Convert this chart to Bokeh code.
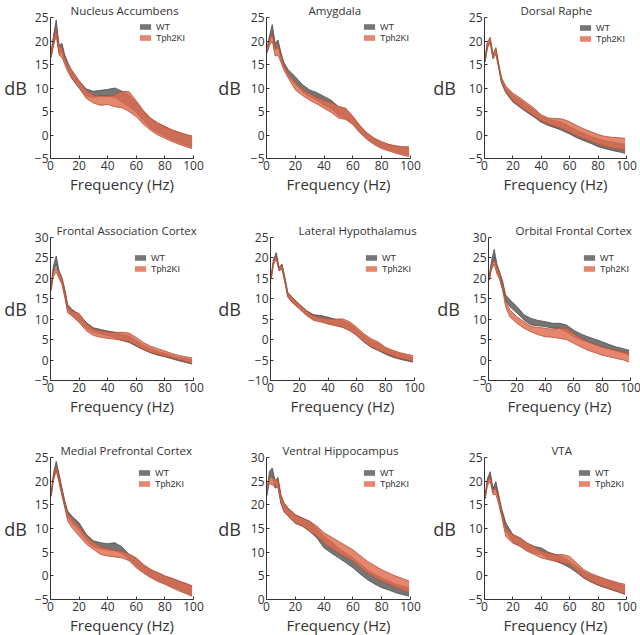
from bokeh.plotting import figure
from bokeh.layouts import row, column
from bokeh.models import Range1d, Title, Legend, LegendItem, FixedTicker, ColumnDataSource
from bokeh.embed import file_html
from bokeh.resources import INLINE

# ---------------- data ----------------
FREQ = [0.5, 2, 4, 6, 8, 10, 12, 15, 20, 25, 30, 35, 40, 45, 50, 55, 60, 65, 70, 75, 80, 85, 90, 95, 99]
SERIES = ["WT", "Tph2KI"]
X_TICKS = [0, 20, 40, 60, 80, 100]
Y_TICKS_M5_25 = [-5, 0, 5, 10, 15, 20, 25]
Y_TICKS_M5_30 = [-5, 0, 5, 10, 15, 20, 25, 30]
Y_TICKS_M10_25 = [-10, -5, 0, 5, 10, 15, 20, 25]
Y_TICKS_0_30 = [0, 5, 10, 15, 20, 25, 30]

TITLES = ["Nucleus Accumbens", "Amygdala", "Dorsal Raphe",
          "Frontal Association Cortex", "Lateral Hypothalamus", "Orbital Frontal Cortex",
          "Medial Prefrontal Cortex", "Ventral Hippocampus", "VTA"]

nac_wt_hi = [17.5, 21.0, 24.5, 19.0, 19.5, 17.0, 15.5, 13.5, 11.5, 9.8, 9.3, 9.5, 9.7, 10.0, 9.3, 8.5, 7.0, 5.0, 3.5, 2.5, 1.8, 1.0, 0.5, 0.0, -0.3]
nac_wt_lo = [16.5, 19.0, 22.0, 17.5, 17.5, 15.5, 14.0, 12.0, 10.0, 8.3, 8.0, 8.3, 8.3, 8.0, 7.0, 6.0, 4.8, 3.0, 1.5, 0.5, -0.3, -1.0, -1.6, -2.2, -2.6]
nac_ki_hi = [17.8, 20.5, 22.5, 19.0, 18.5, 16.5, 15.0, 13.8, 11.5, 9.5, 8.5, 8.3, 8.2, 8.5, 9.3, 9.2, 7.3, 5.2, 3.6, 2.6, 1.8, 1.1, 0.6, 0.1, -0.2]
nac_ki_lo = [17.0, 19.0, 21.0, 17.0, 16.5, 15.0, 13.5, 12.0, 10.0, 7.8, 6.8, 6.3, 6.5, 6.0, 5.8, 5.0, 3.9, 2.3, 1.0, 0.0, -0.7, -1.4, -2.0, -2.5, -2.9]

amy_wt_hi = [18.5, 21.0, 23.5, 19.5, 20.2, 17.6, 15.5, 13.9, 12.4, 10.7, 9.6, 9.0, 8.2, 7.4, 6.0, 5.5, 3.8, 1.8, 0.3, -0.8, -1.6, -2.1, -2.4, -2.6, -2.7]
amy_wt_lo = [17.5, 19.5, 21.5, 18.0, 18.5, 16.3, 14.5, 12.6, 10.8, 9.2, 8.2, 7.4, 6.4, 5.6, 4.2, 3.5, 2.4, 0.6, -0.8, -1.8, -2.6, -3.1, -3.6, -4.0, -4.3]
amy_ki_hi = [18.8, 20.5, 21.6, 18.5, 19.0, 17.0, 15.0, 13.2, 11.2, 9.8, 8.8, 8.0, 7.4, 6.9, 6.1, 5.7, 4.0, 2.0, 0.4, -0.7, -1.4, -2.0, -2.3, -2.5, -2.5]
amy_ki_lo = [17.8, 19.0, 20.0, 16.8, 17.0, 15.5, 13.9, 12.2, 9.6, 8.4, 7.4, 6.6, 5.7, 4.8, 3.6, 3.3, 2.2, 0.4, -1.0, -2.1, -2.9, -3.4, -3.9, -4.3, -4.6]

dr_wt_hi = [16.5, 19.5, 20.5, 17.0, 18.4, 15.0, 12.0, 10.0, 8.5, 7.5, 6.4, 5.3, 4.0, 3.3, 3.0, 2.6, 1.8, 1.0, 0.3, -0.3, -0.8, -1.2, -1.5, -1.8, -2.0]
dr_wt_lo = [15.5, 18.5, 19.8, 16.2, 17.4, 14.3, 11.0, 9.0, 7.0, 5.9, 4.8, 3.8, 2.7, 2.0, 1.5, 0.9, 0.2, -0.6, -1.2, -1.8, -2.5, -2.9, -3.3, -3.6, -3.9]
dr_ki_hi = [16.8, 19.8, 20.8, 17.2, 18.6, 15.2, 12.2, 10.4, 8.9, 7.9, 6.8, 5.7, 4.3, 3.6, 3.5, 3.4, 2.8, 2.0, 1.3, 0.7, 0.1, -0.3, -0.5, -0.6, -0.7]
dr_ki_lo = [15.8, 18.6, 19.6, 16.4, 17.2, 14.4, 11.2, 9.2, 7.3, 6.1, 5.0, 4.0, 3.0, 2.3, 1.8, 1.3, 0.6, -0.2, -0.8, -1.4, -2.0, -2.4, -2.8, -3.0, -3.2]

fac_wt_hi = [18.0, 23.0, 25.5, 21.8, 20.2, 17.3, 13.6, 12.4, 11.2, 9.2, 7.9, 7.5, 7.1, 6.8, 6.3, 5.9, 4.8, 3.6, 2.8, 2.1, 1.6, 1.1, 0.6, 0.3, 0.0]
fac_wt_lo = [17.0, 21.5, 23.5, 20.5, 19.0, 15.8, 12.2, 11.0, 9.6, 7.8, 6.8, 6.4, 6.0, 5.5, 4.8, 4.3, 3.4, 2.5, 1.8, 1.2, 0.8, 0.3, -0.2, -0.6, -1.0]
fac_ki_hi = [18.5, 21.5, 22.6, 21.5, 20.0, 17.0, 13.3, 12.0, 11.4, 9.0, 7.6, 7.2, 6.9, 6.8, 6.8, 6.6, 5.5, 4.3, 3.4, 2.8, 2.2, 1.6, 1.1, 0.8, 0.5]
fac_ki_lo = [17.5, 20.5, 21.6, 20.0, 18.5, 15.3, 11.6, 10.8, 9.2, 7.2, 6.0, 5.6, 5.3, 5.1, 4.8, 4.5, 3.6, 2.6, 1.8, 1.4, 0.9, 0.5, 0.0, -0.4, -0.9]

lh_wt_hi = [15.5, 19.5, 21.3, 17.7, 18.5, 15.2, 11.6, 10.4, 8.7, 7.1, 6.1, 5.9, 5.5, 5.0, 4.6, 3.9, 2.6, 1.0, -0.2, -1.0, -2.2, -2.9, -3.5, -4.0, -4.4]
lh_wt_lo = [14.8, 18.5, 20.3, 16.8, 17.5, 14.2, 10.6, 9.2, 7.7, 6.1, 5.0, 4.6, 4.0, 3.6, 3.1, 2.3, 1.0, -0.6, -1.9, -2.7, -3.6, -4.3, -4.8, -5.2, -5.5]
lh_ki_hi = [15.8, 19.3, 20.5, 17.6, 18.1, 15.0, 11.4, 10.3, 8.6, 7.0, 5.8, 5.4, 5.1, 5.0, 5.1, 4.4, 3.0, 1.4, 0.2, -0.6, -1.9, -2.6, -3.2, -3.6, -3.9]
lh_ki_lo = [15.0, 18.4, 19.7, 16.9, 17.2, 14.0, 10.4, 9.1, 7.5, 5.9, 4.7, 4.3, 3.8, 3.4, 3.0, 2.2, 1.0, -0.6, -1.8, -2.6, -3.4, -4.0, -4.6, -5.0, -5.3]

ofc_wt_hi = [20.5, 24.0, 27.1, 23.4, 21.4, 19.3, 16.0, 14.8, 13.1, 11.1, 10.2, 9.7, 9.4, 9.0, 9.0, 8.6, 7.3, 6.4, 5.7, 5.1, 4.5, 3.8, 3.2, 2.8, 2.4]
ofc_wt_lo = [19.5, 22.5, 25.0, 21.8, 19.7, 17.2, 14.6, 13.1, 11.5, 9.8, 8.6, 8.4, 8.2, 7.8, 7.8, 6.9, 5.7, 5.0, 4.5, 3.8, 3.2, 2.7, 2.2, 1.7, 1.2]
ofc_ki_hi = [20.5, 23.0, 24.6, 22.6, 21.0, 18.5, 14.5, 12.3, 10.6, 9.4, 8.2, 8.0, 7.8, 7.5, 7.8, 7.8, 6.5, 5.4, 4.5, 3.8, 3.2, 2.8, 2.4, 2.0, 1.6]
ofc_ki_lo = [19.5, 22.0, 23.5, 21.0, 19.7, 17.0, 13.1, 10.6, 9.0, 7.8, 6.9, 6.2, 5.7, 5.6, 5.3, 5.0, 4.1, 3.2, 2.4, 1.8, 1.2, 0.8, 0.4, 0.0, -0.5]

mpfc_wt_hi = [17.5, 21.5, 24.2, 21.5, 18.6, 15.8, 13.7, 12.6, 11.2, 8.8, 7.4, 7.0, 6.8, 7.0, 6.1, 4.5, 3.6, 2.2, 1.2, 0.6, -0.1, -0.6, -1.2, -1.7, -2.3]
mpfc_wt_lo = [16.8, 20.5, 22.8, 20.0, 17.2, 14.6, 12.4, 11.2, 9.6, 7.5, 6.2, 5.7, 5.4, 5.3, 4.7, 3.5, 2.0, 0.8, -0.2, -0.9, -1.6, -2.3, -2.9, -3.6, -4.2]
mpfc_ki_hi = [17.5, 21.0, 23.2, 21.0, 18.2, 15.5, 13.2, 12.0, 10.5, 8.4, 7.0, 6.2, 5.8, 5.4, 5.2, 4.6, 3.8, 2.4, 1.4, 0.7, 0.0, -0.5, -1.1, -1.6, -2.1]
mpfc_ki_lo = [16.8, 20.0, 22.2, 19.7, 16.9, 14.4, 11.6, 10.2, 8.4, 6.7, 5.6, 4.5, 4.2, 4.0, 3.8, 3.2, 1.7, 0.6, -0.4, -1.2, -1.8, -2.5, -3.2, -3.8, -4.3]

vh_wt_hi = [23.0, 27.0, 27.8, 25.0, 25.8, 22.1, 20.5, 19.3, 17.9, 17.2, 16.5, 15.1, 13.4, 12.2, 10.9, 9.8, 8.8, 7.5, 6.3, 5.4, 4.6, 3.9, 3.2, 2.8, 2.5]
vh_wt_lo = [22.0, 25.5, 26.0, 23.5, 24.0, 20.4, 18.8, 17.6, 16.1, 15.5, 14.4, 13.0, 10.9, 9.8, 8.8, 7.8, 6.7, 5.4, 4.2, 3.3, 2.5, 2.0, 1.4, 1.0, 0.7]
vh_ki_hi = [24.0, 25.8, 25.6, 25.3, 25.2, 22.0, 20.4, 19.3, 17.9, 17.2, 16.5, 15.5, 14.1, 13.2, 12.3, 11.4, 10.5, 9.3, 8.1, 7.2, 6.3, 5.6, 4.9, 4.4, 3.9]
vh_ki_lo = [23.0, 24.5, 24.2, 23.9, 23.5, 20.4, 18.6, 17.6, 16.1, 15.5, 14.4, 13.4, 11.9, 10.8, 9.8, 8.9, 8.1, 6.8, 5.6, 4.7, 3.9, 3.2, 2.5, 1.9, 1.4]

vta_wt_hi = [17.0, 20.5, 22.0, 18.5, 19.9, 17.1, 14.3, 11.2, 8.7, 8.0, 6.9, 6.2, 5.9, 5.0, 4.5, 4.0, 3.1, 2.0, 0.9, 0.2, -0.3, -0.9, -1.3, -1.8, -2.2]
vta_wt_lo = [16.2, 19.5, 20.8, 17.5, 18.8, 15.8, 13.0, 9.6, 7.1, 6.4, 5.4, 4.8, 4.6, 3.6, 3.1, 2.5, 1.7, 0.7, -0.5, -1.3, -2.0, -2.5, -3.0, -3.5, -3.9]
vta_ki_hi = [17.2, 20.0, 21.0, 18.2, 18.5, 16.5, 13.8, 10.1, 8.7, 8.0, 6.9, 6.2, 5.2, 4.8, 4.5, 4.5, 4.1, 2.7, 1.3, 0.5, -0.1, -0.6, -1.1, -1.5, -1.8]
vta_ki_lo = [16.4, 19.0, 20.0, 17.2, 17.2, 15.2, 12.6, 8.3, 6.9, 6.2, 5.2, 4.5, 3.8, 3.4, 3.1, 2.7, 2.4, 1.0, -0.4, -1.2, -1.9, -2.4, -2.9, -3.4, -3.9]

PANEL_DATA = [
    (nac_wt_hi, nac_wt_lo, nac_ki_hi, nac_ki_lo, Y_TICKS_M5_25),
    (amy_wt_hi, amy_wt_lo, amy_ki_hi, amy_ki_lo, Y_TICKS_M5_25),
    (dr_wt_hi, dr_wt_lo, dr_ki_hi, dr_ki_lo, Y_TICKS_M5_25),
    (fac_wt_hi, fac_wt_lo, fac_ki_hi, fac_ki_lo, Y_TICKS_M5_30),
    (lh_wt_hi, lh_wt_lo, lh_ki_hi, lh_ki_lo, Y_TICKS_M10_25),
    (ofc_wt_hi, ofc_wt_lo, ofc_ki_hi, ofc_ki_lo, Y_TICKS_M5_30),
    (mpfc_wt_hi, mpfc_wt_lo, mpfc_ki_hi, mpfc_ki_lo, Y_TICKS_M5_25),
    (vh_wt_hi, vh_wt_lo, vh_ki_hi, vh_ki_lo, Y_TICKS_0_30),
    (vta_wt_hi, vta_wt_lo, vta_ki_hi, vta_ki_lo, Y_TICKS_M5_25),
]

# ---------------- layout / style ----------------
FONT = "Open Sans"
LEG_FONT = "Liberation Sans"
TXT = "#333333"
WT_FILL, WT_EDGE = "#767676", "#4a4a4a"
KI_FILL, KI_EDGE = "#df6c4f", "#b34f37"

COL_BL = [50, 51, 54]
COL_FW = [143, 144, 142]
COL_BR = [22, 20, 14]
ROW_BT = [16, 31, 31]
ROW_FH = [141, 143, 142]
ROW_BB = [48, 46, 36]

YLAB_STANDOFF = [5, 7, 10, 5, 4, 10, 5, 7, 10]
TITLE_OFFSET = [20, 42, 36, 6, 28, 27, 10, 16, 67]
LEG_DX = [88, 96, 94, 83, 94, 94, 87, 96, 93]
LEG_DY = [6, 6, 7, 17, 17, 17, 12, 12, 12]
LEG_PITCH = 11
LEG_ITEM_H = 11
GLYPH_W, GLYPH_H = 14, 7


def add_legend_item(p, renderer, label, dx, dy_glyph, fh):
    off = (LEG_ITEM_H - GLYPH_H) / 2
    leg = Legend(items=[LegendItem(label=label, renderers=[renderer])],
                 location=(dx, fh - (dy_glyph - off) - LEG_ITEM_H),
                 orientation="vertical", padding=0, margin=0, spacing=0,
                 glyph_width=GLYPH_W, glyph_height=GLYPH_H, label_height=LEG_ITEM_H,
                 label_standoff=4,
                 label_text_font=LEG_FONT, label_text_font_size="9px", label_text_color=TXT,
                 border_line_color=None, background_fill_alpha=0)
    p.add_layout(leg)


def make_panel(i):
    r, c = divmod(i, 3)
    wt_hi, wt_lo, ki_hi, ki_lo, yt = PANEL_DATA[i]
    ylo, yhi = yt[0], yt[-1]
    p = figure(frame_width=COL_FW[c], frame_height=ROW_FH[r],
               x_range=Range1d(0, 100), y_range=Range1d(ylo, yhi),
               output_backend="svg", toolbar_location=None,
               min_border_left=COL_BL[c], min_border_right=COL_BR[c],
               min_border_top=ROW_BT[r], min_border_bottom=ROW_BB[r])
    p.outline_line_color = None
    p.grid.visible = False

    src = ColumnDataSource(dict(f=FREQ, wh=wt_hi, wl=wt_lo, kh=ki_hi, kl=ki_lo))
    a_wt = p.varea(x="f", y1="wl", y2="wh", source=src, fill_color=WT_FILL, fill_alpha=1.0)
    p.line("f", "wh", source=src, line_color=WT_EDGE, line_width=0.8)
    p.line("f", "wl", source=src, line_color=WT_EDGE, line_width=0.8)
    a_ki = p.varea(x="f", y1="kl", y2="kh", source=src, fill_color=KI_FILL, fill_alpha=0.82)
    p.line("f", "kh", source=src, line_color=KI_EDGE, line_width=0.8)
    p.line("f", "kl", source=src, line_color=KI_EDGE, line_width=0.8)

    for ax in (p.xaxis[0], p.yaxis[0]):
        ax.axis_line_color = "#333333"
        ax.major_tick_line_color = "#333333"
        ax.major_tick_in = 3
        ax.major_tick_out = 0
        ax.minor_tick_line_color = None
        ax.major_label_text_font = FONT
        ax.major_label_text_font_size = "12px"
        ax.major_label_text_color = TXT
        ax.major_label_standoff = 2
        ax.axis_label_text_font = FONT
        ax.axis_label_text_font_style = "normal"
        ax.axis_label_text_color = TXT

    xa = p.xaxis[0]
    xa.ticker = FixedTicker(ticks=X_TICKS)
    xa.axis_label = "Frequency (Hz)"
    xa.axis_label_text_font_size = "15px"
    xa.axis_label_standoff = 1

    ya = p.yaxis[0]
    ya.ticker = FixedTicker(ticks=yt)
    ya.axis_label = "dB"
    ya.axis_label_text_font_size = "18px"
    ya.axis_label_standoff = YLAB_STANDOFF[i]
    try:
        ya.axis_label_orientation = "horizontal"
    except Exception:
        pass

    p.add_layout(Title(text=TITLES[i], align="left", offset=TITLE_OFFSET[i], standoff=0,
                       text_font=FONT, text_font_size="11.5px", text_font_style="normal",
                       text_color=TXT), "above")

    add_legend_item(p, a_wt, SERIES[0], LEG_DX[i], LEG_DY[i], ROW_FH[r])
    add_legend_item(p, a_ki, SERIES[1], LEG_DX[i], LEG_DY[i] + LEG_PITCH, ROW_FH[r])
    return p


panels = [make_panel(i) for i in range(9)]
layout = column(row(*panels[0:3]), row(*panels[3:6]), row(*panels[6:9]))

open("out.html", "w").write(file_html(layout, INLINE, "Power spectra"))
